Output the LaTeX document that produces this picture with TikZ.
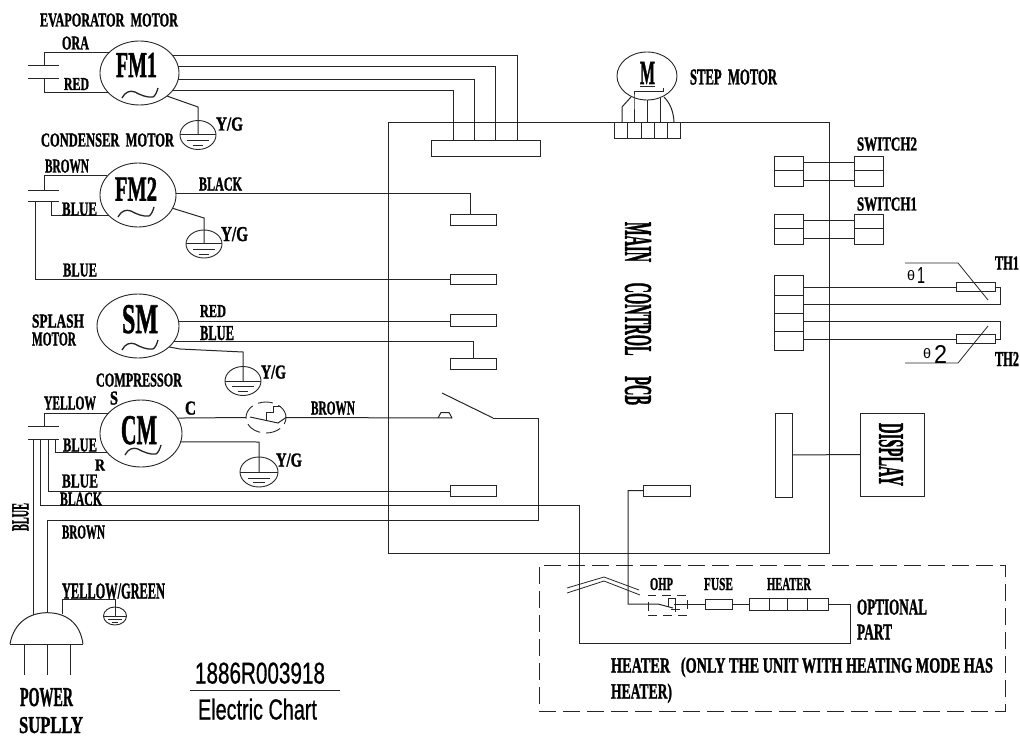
\documentclass[tikz,border=0pt]{standalone}
\usepackage{fontspec}
\usepackage{graphicx}
\usetikzlibrary{shapes.geometric}
\setmainfont{Liberation Serif}
\newfontfamily\sansf{Liberation Sans}
\newfontfamily\cadf{Liberation Serif}[BoldFeatures={FakeBold=1.6}]
\newfontfamily\titlef{Liberation Sans}[FakeBold=0.8]
\tikzset{
  wire/.style={line width=1pt,draw=black!85},
  cbox/.style={draw=black!85,line width=0.95pt,rectangle,inner sep=0pt,outer sep=0pt},
  motor/.style={draw=black!85,line width=0.9pt,ellipse,inner sep=0pt,outer sep=0pt},
  lab/.style={inner sep=0pt,outer sep=0pt,font=\cadf\bfseries,text=black},
  plainlab/.style={inner sep=0pt,outer sep=0pt,font=\sansf,text=black},
  titlelab/.style={inner sep=0pt,outer sep=0pt,font=\titlef,text=black},
  optbox/.style={draw=black!85,line width=1pt,dash pattern=on 17pt off 7pt},
}
\newcommand\lab[6]{\node[lab,anchor=base west] (#1) at (#2,{#3+#5/2}) {\resizebox{#4pt}{#5pt}{#6}};}
\newcommand\slab[6]{\node[plainlab,anchor=base west] (#1) at (#2,{#3+#5/2}) {\resizebox{#4pt}{#5pt}{#6}};}
\newcommand\tlab[6]{\node[titlelab,anchor=base west] (#1) at (#2,{#3+#5/2}) {\resizebox{#4pt}{#5pt}{#6}};}
\newcommand\rlab[7]{\node[lab,rotate=#2] (#1) at (#3,#4) {\resizebox{#5pt}{#6pt}{#7}};}
\newcommand\gnd[5]{%
  \node[motor,minimum width=#4pt,minimum height=#5pt] (#1) at (#2,#3) {};
  \draw[wire] ({#2-#4/2},#3) -- ({#2+#4/2},#3);
  \draw[wire] ({#2-0.3*#4},{#3+0.2*#5}) -- ({#2+0.3*#4},{#3+0.2*#5});
  \draw[wire] ({#2-0.15*#4},{#3+0.36*#5}) -- ({#2+0.15*#4},{#3+0.36*#5});
}
\newcommand\wave[2]{\draw[wire,line width=1.3pt] (#1,#2) .. controls ({#1+3},{#2-6}) and ({#1+8},{#2-8}) .. ({#1+13},{#2-6}) .. controls ({#1+18},{#2-3}) and ({#1+26},{#2}) .. ({#1+31},{#2-1}) .. controls ({#1+33},{#2-2}) and ({#1+35},{#2-6}) .. ({#1+36},{#2-10});}
\begin{document}
\begin{tikzpicture}[x=1pt,y=-1pt]
\fill[white] (0,0) rectangle (1020,738);
\useasboundingbox (0,0) rectangle (1020,738);

% main board
\node[cbox,minimum width=440.5pt,minimum height=431pt] (pcb) at (608.75,337.5) {};
\rlab{pcbt}{-90}{638}{313.5}{183}{26}{MAIN\hspace{14.2pt}CONTROL\hspace{14.2pt}PCB}

% motors
\node[motor,minimum width=79pt,minimum height=64pt] (fm1) at (139.5,73) {};
\node[motor,minimum width=76pt,minimum height=64pt] (fm2) at (138,195) {};
\node[motor,minimum width=82pt,minimum height=64pt] (sm) at (138,326) {};
\node[motor,minimum width=82pt,minimum height=67pt] (cm) at (141,433.5) {};
\node[motor,minimum width=60pt,minimum height=48pt] (step) at (647,76) {};
\wave{122}{98}\wave{118}{217}\wave{122}{350}\wave{125}{455}
\lab{tfm1}{116}{65}{41}{24}{FM1}
\lab{tfm2}{115}{189}{42}{23}{FM2}
\lab{tsm}{122}{319}{36}{28}{SM}
\lab{tcm}{121}{430}{36}{28}{CM}
\lab{tm}{640}{73}{15}{22}{M}
\draw[wire,line width=1.2pt] (640,86.5) -- (655,86.5);

% grounds
\gnd{g1}{198}{135}{36}{29}
\gnd{g2}{204}{244}{36}{28}
\gnd{g3}{243}{381}{36}{29}
\gnd{g4}{259}{472}{38}{30}
\gnd{g5}{115}{616}{23}{18}
\draw[wire] (fm1.-40) -- (g1.center |- 0,107) -- (g1.center);
\draw[wire] (fm2.-21) -- (g2.center |- 0,218) -- (g2.center);
\draw[wire] (sm.-34) -- (180,349) -- (g3.center |- 0,352) -- (g3.center);
\draw[wire] (cm.-12) -- (g4.center |- 0,442) -- (g4.center);

% plates at the capacitors
\draw[wire] (28,66) -- (59,66) (28,79) -- (59,79);
\draw[wire] (28,191) -- (59,191) (28,202) -- (59,202);
\draw[wire] (28,426) -- (59,426) (28,439) -- (59,439);
\coordinate (a1) at (44,66);
\coordinate (a2) at (44,79);
\coordinate (a3) at (44,191);
\coordinate (a4) at (51,202);
\coordinate (a5) at (35,202);
\coordinate (a6) at (44,426);
\coordinate (a7) at (55,439);
\coordinate (a8) at (48,439);
\coordinate (a9) at (40,439);
\coordinate (a10) at (33,439);
\draw[wire] (fm1.145) -| (a1);
\draw[wire] (fm1.211) -| (a2);
\draw[wire] (fm2.148) -| (a3);
\draw[wire] (fm2.216) -| (a4);
\draw[wire] (cm.148) -| (a6);
\draw[wire] (cm.209) -| (a7);

% fan connector
\node[cbox,minimum width=109pt,minimum height=16pt] (cn) at (485.5,148) {};
\coordinate (c1) at (453,140);
\coordinate (c2) at (474,140);
\coordinate (c3) at (495,140);
\coordinate (c4) at (517,140);
\draw[wire] (fm1.-27) -| (c1);
\draw[wire] (fm1.-9) -| (c2);
\draw[wire] (fm1.9) -| (c3);
\draw[wire] (fm1.27) -| (c4);

% board connectors
\node[cbox,minimum width=46pt,minimum height=11pt] (k1) at (473,219.5) {};
\node[cbox,minimum width=46pt,minimum height=10.5pt] (k2) at (473,279.25) {};
\node[cbox,minimum width=46pt,minimum height=12pt] (k3) at (473,320) {};
\node[cbox,minimum width=46pt,minimum height=11pt] (k4) at (473,363.5) {};
\node[cbox,minimum width=46pt,minimum height=10.5pt] (k5) at (473,491) {};
\node[cbox,minimum width=47pt,minimum height=11pt] (k6) at (666.5,490.5) {};
\draw[wire] (fm2.2) -| ([xshift=-3pt]k1.north);
\draw[wire] (a5) |- (k2.west);
\draw[wire] (sm.7) -- (sm.7 -| k3.west);
\draw[wire] (sm.-24) -| (k4.north);
\draw[wire] (a8) |- (k5.west);

% compressor common line with protector and relay
\node[motor,dash pattern=on 15pt off 6pt,minimum width=40pt,minimum height=31pt] (prot) at (266,417.5) {};
\draw[wire] (cm.23) -- (prot.west);
\coordinate (ct) at (452,418);
\coordinate (sw) at (493,418);
\draw[wire] (prot.east) -- (ct);
\draw[wire] (250,417) -- (278,423) -- (prot.east);
\draw[wire] (266,420) -- (266,412) -- (273,412) -- (273,406) -- (281,406);
\draw[wire] (438,418) -- (441,412.5) -- (449,412.5) -- (ct);
\draw[wire] (sw) -- (442,393);

% power lines
\coordinate (b1) at (579,505);
\coordinate (b2) at (579,643);
\coordinate (b3) at (850,643);
\coordinate (b4) at (850,604);
\coordinate (b5) at (47,520);
\coordinate (b6) at (538,520);
\coordinate (b7) at (538,418);
\coordinate (pg) at (47,612.7);
\coordinate (pb) at (33,614.8);
\coordinate (py) at (62,614);
\node[cbox,minimum width=79pt,minimum height=12pt] (heater) at (788.5,604) {};
\draw[wire] (a9) |- (b1) -- (b2) -- (b3) -- (b4) -- (heater.east);
\draw[wire] (pg) -- (b5) -- (b6) -- (b7) -- (sw);
\draw[wire] (a10) -- (pb);
\draw[wire] (py) |- (115,599.5) -- (g5.center);

% plug
\draw[wire] (10,644) -- (83,644);
\draw[wire] (10,644) .. controls (14,622) and (30,612.7) .. (pg) .. controls (65,612.7) and (80,622) .. (83,644);
\draw[wire] (24,644) -- (24,675) (47,644) -- (47,675) (70,644) -- (70,675);

% optional heater
\node[cbox,optbox,minimum width=466pt,minimum height=146pt] (opt) at (772,638) {};
\draw[wire] (769,598) -- (769,610) (787,598) -- (787,610) (807,598) -- (807,610);
\node[cbox,minimum width=27pt,minimum height=10pt] (fuse) at (718.5,604) {};
\node[cbox,dash pattern=on 9pt off 6pt,minimum width=39pt,minimum height=20pt] (ohp) at (667.5,605) {};
\coordinate (o1) at (628,604);
\coordinate (o2) at (658,604);
\coordinate (o3) at (674,604);
\draw[wire] (k6.west) -| (o1) -- (o2) -- (673,608);
\draw[wire] (o3) -- (fuse.west);
\draw[wire] (fuse.east) -- (heater.west);
\draw[wire] (668,607) -- (668,598) -- (675,598) -- (675,612);
\draw[wire] (671,609) -- (680,609);
\draw[wire,line width=0.8pt] (567,588) -- (604,577) -- (639,590);
\draw[wire,line width=0.8pt] (567,593) -- (604,581) -- (640,595);

% step motor
\node[cbox,minimum width=66pt,minimum height=16pt] (sc) at (647,130) {};
\draw[wire] (627.5,122) -- (627.5,138) (641,122) -- (641,138) (654.5,122) -- (654.5,138) (667,122) -- (667,138);
\draw[wire] (634,122) -- (634,97) -- (634,92) -- (663,92) -- (663,88);
\draw[wire] (647,122) -- (step.south);
\draw[wire] (660,122) -- (660,98.5);
\draw[wire] (622,122) -- (622,107) -- (631,97);
\draw[wire] (674,122) .. controls (673.5,113) and (671,104) .. (664,97);

% switches
\node[cbox,minimum width=29pt,minimum height=30pt] (s2l) at (788.5,171) {};
\node[cbox,minimum width=29pt,minimum height=30pt] (s2r) at (868.5,171) {};
\node[cbox,minimum width=29pt,minimum height=30pt] (s1l) at (788.5,229) {};
\node[cbox,minimum width=29pt,minimum height=30pt] (s1r) at (868.5,229) {};
\draw[wire] (s2l.west) -- (s2l.east) (s2r.west) -- (s2r.east) (s1l.west) -- (s1l.east) (s1r.west) -- (s1r.east);
\draw[wire] ([yshift=8pt]s2l.east) -- ([yshift=8pt]s2r.west);
\draw[wire] ([yshift=-10pt]s2l.east) -- ([yshift=-10pt]s2r.west);
\draw[wire] ([yshift=8pt]s1l.east) -- ([yshift=8pt]s1r.west);
\draw[wire] ([yshift=-10pt]s1l.east) -- ([yshift=-10pt]s1r.west);

% thermistors
\node[cbox,minimum width=29pt,minimum height=75pt] (tb) at (788.5,312.5) {};
\draw[wire] (774,295) -- (803,295) (774,313) -- (803,313) (774,331) -- (803,331);
\node[cbox,minimum width=39pt,minimum height=8.5pt] (r1) at (975.5,287) {};
\node[cbox,minimum width=39pt,minimum height=8.5pt] (r2) at (975.5,339) {};
\coordinate (t1) at (1000,287);
\coordinate (t2) at (1000,304);
\coordinate (t3) at (1000,321.5);
\coordinate (t4) at (1000,339);
\draw[wire] ([yshift=25.5pt]tb.east) -- (r1.west);
\draw[wire] (r1.east) -- (t1) -- (t2) -- ([yshift=8.5pt]tb.east);
\draw[wire] ([yshift=-9pt]tb.east) -- (t3) -- (t4) -- (r2.east);
\draw[wire] ([yshift=-26.5pt]tb.east) -- (r2.west);
\draw[wire,line width=0.8pt] (905,263) -- (958,263) -- (988,300);
\draw[wire,line width=0.8pt] (905,363) -- (958,363) -- (988,326);

% display
\node[cbox,minimum width=17pt,minimum height=84pt] (bar) at (783.5,455) {};
\node[cbox,minimum width=64pt,minimum height=83pt] (disp) at (892,454.5) {};
\draw[wire] (bar.east) -- (disp.west);
\rlab{tdisp}{-90}{891}{454.5}{63}{24}{DISPLAY}

% texts
\lab{l1}{40}{20}{138}{13}{EVAPORATOR\ \ MOTOR}
\lab{l2}{62}{43}{27}{13}{ORA}
\lab{l3}{64}{84}{25}{12}{RED}
\lab{l4}{216}{124}{27}{13}{Y/G}
\lab{l5}{41}{140}{133}{13}{CONDENSER\ \ MOTOR}
\lab{l6}{45}{166}{44}{13}{BROWN}
\lab{l7}{199}{184}{43}{13}{BLACK}
\lab{l8}{62}{209}{35}{13}{BLUE}
\lab{l9}{221}{234}{27}{14}{Y/G}
\lab{l10}{63}{270}{34}{13}{BLUE}
\lab{l11}{32}{321}{52}{13}{SPLASH}
\lab{l12}{32}{339}{44}{13}{MOTOR}
\lab{l13}{200}{311}{26}{12}{RED}
\lab{l14}{200}{333}{34}{14}{BLUE}
\lab{l15}{261}{372}{25}{13}{Y/G}
\lab{l16}{96}{380}{86}{13}{COMPRESSOR}
\lab{l17}{110}{398}{8}{13}{S}
\lab{l18}{44}{403}{52}{13}{YELLOW}
\lab{l19}{185}{408}{11}{13}{C}
\lab{l20}{311}{408}{44}{13}{BROWN}
\lab{l21}{63}{445}{34}{13}{BLUE}
\lab{l22}{95}{465}{10}{11}{R}
\lab{l23}{276}{460}{26}{13}{Y/G}
\lab{l24}{62}{481}{36}{13}{BLUE}
\lab{l25}{60}{499}{42}{13}{BLACK}
\lab{l26}{62}{532}{43}{13}{BROWN}
\rlab{l27}{90}{20.5}{517}{28}{16}{BLUE}
\lab{l28}{62}{591}{103}{15}{YELLOW/GREEN}
\lab{l29}{20}{697}{53}{18}{POWER}
\lab{l30}{19}{725}{64}{16}{SUPLLY}
\tlab{l31}{195}{673}{130}{21}{1886R003918}
\draw[wire] (190,690) -- (340,690);
\tlab{l32}{198}{709}{119}{21}{Electric Chart}
\lab{l33}{690}{77}{87}{15}{STEP\ \ MOTOR}
\lab{l34}{857}{144}{60}{13}{SWITCH2}
\lab{l35}{857}{204}{60}{13}{SWITCH1}
\lab{l36}{995}{263}{24}{13}{TH1}
\lab{l37}{995}{359}{24}{14}{TH2}
\slab{l38}{907}{275}{8}{10}{\symbol{"03B8}}
\slab{l39}{917}{275}{8}{16}{1}
\slab{l40}{923}{353}{8}{10}{\symbol{"03B8}}
\slab{l41}{934}{354}{13}{18}{2}
\lab{l42}{650}{584}{23}{12}{OHP}
\lab{l43}{704}{584}{29}{12}{FUSE}
\lab{l44}{767}{584}{44}{12}{HEATER}
\lab{l45}{857}{607}{70}{15}{OPTIONAL}
\lab{l46}{857}{632}{35}{15}{PART}
\lab{l47}{611}{665}{382}{15}{HEATER\ \ \ (ONLY\ THE\ UNIT\ WITH\ HEATING\ MODE\ HAS}
\lab{l48}{611}{691}{61}{15}{HEATER)}
\end{tikzpicture}
\end{document}
